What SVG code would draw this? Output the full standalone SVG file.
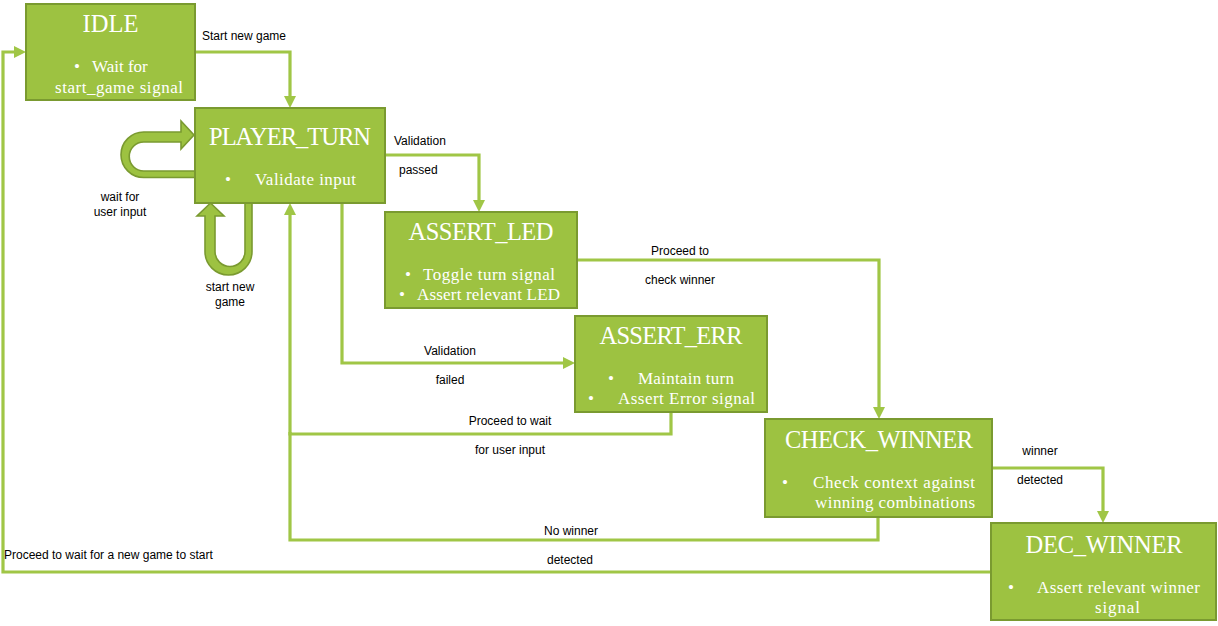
<svg xmlns="http://www.w3.org/2000/svg" width="1218" height="626" viewBox="0 0 1218 626">
<defs>
<style>
.box{fill:#9DC241;stroke:#7A9A30;stroke-width:2}
.title{font-family:"Liberation Serif","Times New Roman",serif;font-size:24.5px;fill:#fff;text-anchor:middle}
.body{font-family:"Liberation Serif","Times New Roman",serif;font-size:17px;fill:#fff}
.lbl{font-family:"Liberation Sans",Arial,sans-serif;font-size:12px;fill:#000}
.mid{text-anchor:middle}
.conn{fill:none;stroke:#A0C646;stroke-width:3.2}
.loop{fill:#9DC241;stroke:#7A9A30;stroke-width:1.6;stroke-linejoin:miter}
</style>
<marker id="ah" viewBox="0 0 12 12" markerWidth="12" markerHeight="12" refX="0" refY="6" orient="auto" markerUnits="userSpaceOnUse">
<path d="M0,0 L12,6 L0,12 z" fill="#A0C646"/>
</marker>
</defs>
<rect width="1218" height="626" fill="#fff"/>

<g id="connectors">
<path class="conn" d="M195,52 H290 V96" marker-end="url(#ah)"/>
<path class="conn" d="M385,155 H479 V200" marker-end="url(#ah)"/>
<path class="conn" d="M577,260 H879 V407" marker-end="url(#ah)"/>
<path class="conn" d="M342,203 V363 H563" marker-end="url(#ah)"/>
<path class="conn" d="M671,412 V434 H290 V215" marker-end="url(#ah)"/>
<path class="conn" d="M878,517 V540 H290 V432"/>
<path class="conn" d="M992,468 H1103 V511" marker-end="url(#ah)"/>
<path class="conn" d="M991,572 H3 V52 H14" marker-end="url(#ah)"/>
<path id="loop-wait" class="loop" d="M196,177.5 H143.75 A22.75,22.75 0 0 1 143.75,132 H181 V121 L194,135 L181,149 V142 H143.75 A14.5,14.5 0 0 0 143.75,171 H196 Z"/>
<path id="loop-start" class="loop" d="M252,202 V251.5 A23.5,23.5 0 0 1 205,251.5 V216 H197 L210.5,203 L224,216 H215 V251.5 A15,15 0 0 0 245,251.5 V202 Z"/>
</g>

<g id="connector-labels">
<text class="lbl" x="202" y="40">Start new game</text>
<text class="lbl" x="394" y="145">Validation</text>
<text class="lbl" x="399" y="174">passed</text>
<text class="lbl mid" x="120" y="201">wait for</text>
<text class="lbl mid" x="120" y="216">user input</text>
<text class="lbl mid" x="230" y="291">start new</text>
<text class="lbl mid" x="230" y="306">game</text>
<text class="lbl mid" x="680" y="255">Proceed to</text>
<text class="lbl mid" x="680" y="284">check winner</text>
<text class="lbl mid" x="450" y="355">Validation</text>
<text class="lbl mid" x="450" y="384">failed</text>
<text class="lbl mid" x="510" y="425">Proceed to wait</text>
<text class="lbl mid" x="510" y="454">for user input</text>
<text class="lbl mid" x="1040" y="455">winner</text>
<text class="lbl mid" x="1040" y="484">detected</text>
<text class="lbl mid" x="571" y="535">No winner</text>
<text class="lbl mid" x="570" y="564">detected</text>
<text class="lbl" x="4" y="559">Proceed to wait for a new game to start</text>
</g>

<g id="IDLE">
<rect class="box" x="26" y="4" width="169" height="96"/>
<text class="title" x="110.5" y="32">IDLE</text>
<text class="body" x="74" y="72">•</text>
<text class="body" x="92" y="72">Wait for</text>
<text class="body" x="55" y="93" textLength="128">start_game signal</text>
</g>

<g id="PLAYER_TURN">
<rect class="box" x="195" y="108" width="190" height="95"/>
<text class="title" x="290" y="145" textLength="162">PLAYER_TURN</text>
<text class="body" x="225" y="185">•</text>
<text class="body" x="255" y="185" textLength="101">Validate input</text>
</g>

<g id="ASSERT_LED">
<rect class="box" x="385" y="212" width="192" height="96"/>
<text class="title" x="481" y="240" textLength="145">ASSERT_LED</text>
<text class="body" x="405" y="280">•</text>
<text class="body" x="423" y="280" textLength="132">Toggle turn signal</text>
<text class="body" x="399" y="300">•</text>
<text class="body" x="417" y="300" textLength="143">Assert relevant LED</text>
</g>

<g id="ASSERT_ERR">
<rect class="box" x="575" y="316" width="192" height="96"/>
<text class="title" x="671" y="344" textLength="143">ASSERT_ERR</text>
<text class="body" x="608" y="384">•</text>
<text class="body" x="638" y="384" textLength="96">Maintain turn</text>
<text class="body" x="588" y="404">•</text>
<text class="body" x="618" y="404" textLength="137">Assert Error signal</text>
</g>

<g id="CHECK_WINNER">
<rect class="box" x="765" y="419" width="227" height="98"/>
<text class="title" x="879" y="448" textLength="188">CHECK_WINNER</text>
<text class="body" x="782" y="488">•</text>
<text class="body" x="813" y="488" textLength="162">Check context against</text>
<text class="body" x="815" y="508" textLength="160">winning combinations</text>
</g>

<g id="DEC_WINNER">
<rect class="box" x="991" y="523" width="225" height="97"/>
<text class="title" x="1104" y="553" textLength="157">DEC_WINNER</text>
<text class="body" x="1008" y="593">•</text>
<text class="body" x="1037" y="593" textLength="163">Assert relevant winner</text>
<text class="body" x="1095" y="613" textLength="45">signal</text>
</g>
</svg>
